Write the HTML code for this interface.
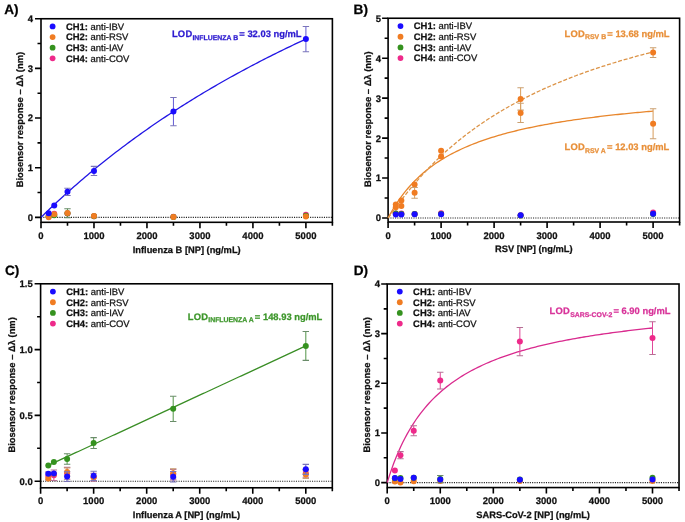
<!DOCTYPE html>
<html><head><meta charset="utf-8"><style>
html,body{margin:0;padding:0;background:#fff;width:685px;height:522px;overflow:hidden}
svg{display:block;will-change:transform}
text{font-family:"Liberation Sans", sans-serif;text-rendering:geometricPrecision;stroke-width:0.25px}
</style></head><body>
<svg width="685" height="522" viewBox="0 0 685 522" font-family='"Liberation Sans", sans-serif'>
<rect width="685" height="522" fill="#fff"/>
<line x1="41" y1="217.35" x2="332.39" y2="217.35" stroke="#222" stroke-width="1.1" stroke-dasharray="1.1 1.2"/>
<path d="M35 217.35H41M35 167.7H41M35 118.05H41M35 68.4H41M35 18.75H41M37.5 192.53H41M37.5 142.88H41M37.5 93.22H41M37.5 43.57H41M41 222.31V228.31M93.98 222.31V228.31M146.96 222.31V228.31M199.94 222.31V228.31M252.92 222.31V228.31M305.9 222.31V228.31M67.49 222.31V225.81M120.47 222.31V225.81M173.45 222.31V225.81M226.43 222.31V225.81M279.41 222.31V225.81M332.39 222.31V225.81" stroke="#000" stroke-width="1.6" fill="none"/>
<rect x="41" y="18.75" width="291.39" height="203.56" stroke="#000" stroke-width="1.6" fill="none"/>
<text x="33" y="220.75" font-size="9.5" font-weight="bold" fill="#111" stroke="#111" text-anchor="end">0</text>
<text x="33" y="171.1" font-size="9.5" font-weight="bold" fill="#111" stroke="#111" text-anchor="end">1</text>
<text x="33" y="121.45" font-size="9.5" font-weight="bold" fill="#111" stroke="#111" text-anchor="end">2</text>
<text x="33" y="71.8" font-size="9.5" font-weight="bold" fill="#111" stroke="#111" text-anchor="end">3</text>
<text x="33" y="22.15" font-size="9.5" font-weight="bold" fill="#111" stroke="#111" text-anchor="end">4</text>
<text x="41" y="239.01" font-size="9.5" font-weight="bold" fill="#111" stroke="#111" text-anchor="middle">0</text>
<text x="93.98" y="239.01" font-size="9.5" font-weight="bold" fill="#111" stroke="#111" text-anchor="middle">1000</text>
<text x="146.96" y="239.01" font-size="9.5" font-weight="bold" fill="#111" stroke="#111" text-anchor="middle">2000</text>
<text x="199.94" y="239.01" font-size="9.5" font-weight="bold" fill="#111" stroke="#111" text-anchor="middle">3000</text>
<text x="252.92" y="239.01" font-size="9.5" font-weight="bold" fill="#111" stroke="#111" text-anchor="middle">4000</text>
<text x="305.9" y="239.01" font-size="9.5" font-weight="bold" fill="#111" stroke="#111" text-anchor="middle">5000</text>
<text x="186.69" y="252.72" font-size="9.3" font-weight="bold" fill="#111" stroke="#111" text-anchor="middle">Influenza B [NP] (ng/mL)</text>
<text x="0" y="0" font-size="9.4" font-weight="bold" fill="#111" stroke="#111" text-anchor="middle" transform="translate(23.1 119.63) rotate(-90)">Biosensor response – Δλ (nm)</text>
<text x="4.3" y="13.8" font-size="13.6" font-weight="bold" fill="#000" stroke="#000" text-anchor="start">A)</text>
<circle cx="48.68" cy="215.86" r="3.0" fill="#ee2a8a"/>
<circle cx="54.24" cy="213.63" r="3.0" fill="#ee2a8a"/>
<circle cx="67.49" cy="213.38" r="3.0" fill="#ee2a8a"/>
<circle cx="93.98" cy="216.36" r="3.0" fill="#ee2a8a"/>
<circle cx="173.45" cy="216.85" r="3.0" fill="#ee2a8a"/>
<circle cx="305.9" cy="214.87" r="3.0" fill="#ee2a8a"/>
<path d="M67.49 208.66V217.6" stroke="#5a9a50" stroke-width="1.05" fill="none"/>
<path d="M64.29 208.66H70.69M64.29 217.6H70.69" stroke="#6a8c6a" stroke-width="1.05" fill="none"/>
<circle cx="48.68" cy="216.36" r="3.0" fill="#35921f"/>
<circle cx="54.24" cy="215.36" r="3.0" fill="#35921f"/>
<circle cx="67.49" cy="213.13" r="3.0" fill="#35921f"/>
<circle cx="93.98" cy="216.36" r="3.0" fill="#35921f"/>
<circle cx="173.45" cy="217.1" r="3.0" fill="#35921f"/>
<circle cx="305.9" cy="215.86" r="3.0" fill="#35921f"/>
<circle cx="48.68" cy="217.35" r="3.0" fill="#f07c22"/>
<circle cx="54.24" cy="214.37" r="3.0" fill="#f07c22"/>
<circle cx="67.49" cy="212.88" r="3.0" fill="#f07c22"/>
<circle cx="93.98" cy="216.11" r="3.0" fill="#f07c22"/>
<circle cx="173.45" cy="216.9" r="3.0" fill="#f07c22"/>
<circle cx="305.9" cy="216.51" r="3.0" fill="#f07c22"/>
<polyline points="41,217.35 43.21,215.19 45.41,213.04 47.62,210.92 49.83,208.8 52.04,206.71 54.24,204.63 56.45,202.56 58.66,200.51 60.87,198.48 63.08,196.46 65.28,194.46 67.49,192.47 69.7,190.49 71.91,188.53 74.11,186.58 76.32,184.65 78.53,182.73 80.73,180.83 82.94,178.94 85.15,177.06 87.36,175.19 89.56,173.34 91.77,171.5 93.98,169.68 96.19,167.87 98.39,166.07 100.6,164.28 102.81,162.5 105.02,160.74 107.22,158.99 109.43,157.25 111.64,155.52 113.85,153.81 116.06,152.1 118.26,150.41 120.47,148.73 122.68,147.06 124.88,145.4 127.09,143.76 129.3,142.12 131.51,140.5 133.72,138.88 135.92,137.28 138.13,135.68 140.34,134.1 142.55,132.53 144.75,130.96 146.96,129.41 149.17,127.87 151.38,126.34 153.58,124.81 155.79,123.3 158,121.8 160.2,120.3 162.41,118.82 164.62,117.35 166.83,115.88 169.03,114.42 171.24,112.98 173.45,111.54 175.66,110.11 177.87,108.69 180.07,107.28 182.28,105.87 184.49,104.48 186.69,103.09 188.9,101.72 191.11,100.35 193.32,98.99 195.52,97.63 197.73,96.29 199.94,94.95 202.15,93.62 204.36,92.3 206.56,90.99 208.77,89.69 210.98,88.39 213.19,87.1 215.39,85.82 217.6,84.54 219.81,83.28 222.01,82.02 224.22,80.76 226.43,79.52 228.64,78.28 230.84,77.05 233.05,75.83 235.26,74.61 237.47,73.4 239.68,72.2 241.88,71 244.09,69.81 246.3,68.63 248.5,67.46 250.71,66.29 252.92,65.13 255.13,63.97 257.34,62.82 259.54,61.68 261.75,60.54 263.96,59.41 266.16,58.28 268.37,57.17 270.58,56.05 272.79,54.95 275,53.85 277.2,52.75 279.41,51.67 281.62,50.58 283.82,49.51 286.03,48.44 288.24,47.37 290.45,46.31 292.65,45.26 294.86,44.21 297.07,43.17 299.28,42.13 301.49,41.1 303.69,40.08 305.9,39.06" stroke="#2216e4" stroke-width="1.3" fill="none"/>
<path d="M67.49 188.16V195.4" stroke="#6a62d6" stroke-width="1.05" fill="none"/>
<path d="M64.29 188.16H70.69M64.29 195.4H70.69" stroke="#7a74b8" stroke-width="1.05" fill="none"/>
<path d="M93.98 166.36V175.5" stroke="#6a62d6" stroke-width="1.05" fill="none"/>
<path d="M90.78 166.36H97.18M90.78 175.5H97.18" stroke="#7a74b8" stroke-width="1.05" fill="none"/>
<path d="M173.45 97.4V125.8" stroke="#6a62d6" stroke-width="1.05" fill="none"/>
<path d="M170.25 97.4H176.65M170.25 125.8H176.65" stroke="#7a74b8" stroke-width="1.05" fill="none"/>
<path d="M305.9 26.55V51.67" stroke="#6a62d6" stroke-width="1.05" fill="none"/>
<path d="M302.7 26.55H309.1M302.7 51.67H309.1" stroke="#7a74b8" stroke-width="1.05" fill="none"/>
<circle cx="48.68" cy="213.23" r="3.0" fill="#1a0cff"/>
<circle cx="54.24" cy="205.43" r="3.0" fill="#1a0cff"/>
<circle cx="67.49" cy="191.78" r="3.0" fill="#1a0cff"/>
<circle cx="93.98" cy="170.93" r="3.0" fill="#1a0cff"/>
<circle cx="173.45" cy="111.6" r="3.0" fill="#1a0cff"/>
<circle cx="305.9" cy="39.11" r="3.0" fill="#1a0cff"/>
<circle cx="52.6" cy="26.4" r="2.9" fill="#1a0cff"/>
<text x="65.9" y="29.7" font-size="9.45" fill="#111" stroke="#111"><tspan font-weight="bold">CH1:</tspan><tspan> anti-IBV</tspan></text>
<circle cx="52.6" cy="37.05" r="2.9" fill="#f07c22"/>
<text x="65.9" y="40.35" font-size="9.45" fill="#111" stroke="#111"><tspan font-weight="bold">CH2:</tspan><tspan> anti-RSV</tspan></text>
<circle cx="52.6" cy="47.7" r="2.9" fill="#35921f"/>
<text x="65.9" y="51" font-size="9.45" fill="#111" stroke="#111"><tspan font-weight="bold">CH3:</tspan><tspan> anti-IAV</tspan></text>
<circle cx="52.6" cy="58.35" r="2.9" fill="#ee2a8a"/>
<text x="65.9" y="61.65" font-size="9.45" fill="#111" stroke="#111"><tspan font-weight="bold">CH4:</tspan><tspan> anti-COV</tspan></text>
<text x="171.9" y="36.9" font-size="9.4" font-weight="bold" fill="#2c1ad0" stroke="#2c1ad0"><tspan letter-spacing="0.25">LOD</tspan><tspan font-size="6.9" dy="2.6">INFLUENZA B</tspan><tspan dy="-2.6" dx="1.2">= 32.03 ng/mL</tspan></text>
<line x1="388.1" y1="218" x2="679.6" y2="218" stroke="#222" stroke-width="1.1" stroke-dasharray="1.1 1.2"/>
<path d="M382.1 218H388.1M382.1 178.05H388.1M382.1 138.1H388.1M382.1 98.15H388.1M382.1 58.2H388.1M382.1 18.25H388.1M384.6 198.03H388.1M384.6 158.07H388.1M384.6 118.12H388.1M384.6 78.17H388.1M384.6 38.22H388.1M388.1 222V228M441.1 222V228M494.1 222V228M547.1 222V228M600.1 222V228M653.1 222V228M414.6 222V225.5M467.6 222V225.5M520.6 222V225.5M573.6 222V225.5M626.6 222V225.5M679.6 222V225.5" stroke="#000" stroke-width="1.6" fill="none"/>
<rect x="388.1" y="18.25" width="291.5" height="203.75" stroke="#000" stroke-width="1.6" fill="none"/>
<text x="381" y="221.4" font-size="9.5" font-weight="bold" fill="#111" stroke="#111" text-anchor="end">0</text>
<text x="381" y="181.45" font-size="9.5" font-weight="bold" fill="#111" stroke="#111" text-anchor="end">1</text>
<text x="381" y="141.5" font-size="9.5" font-weight="bold" fill="#111" stroke="#111" text-anchor="end">2</text>
<text x="381" y="101.55" font-size="9.5" font-weight="bold" fill="#111" stroke="#111" text-anchor="end">3</text>
<text x="381" y="61.6" font-size="9.5" font-weight="bold" fill="#111" stroke="#111" text-anchor="end">4</text>
<text x="381" y="21.65" font-size="9.5" font-weight="bold" fill="#111" stroke="#111" text-anchor="end">5</text>
<text x="388.1" y="238.69" font-size="9.5" font-weight="bold" fill="#111" stroke="#111" text-anchor="middle">0</text>
<text x="441.1" y="238.69" font-size="9.5" font-weight="bold" fill="#111" stroke="#111" text-anchor="middle">1000</text>
<text x="494.1" y="238.69" font-size="9.5" font-weight="bold" fill="#111" stroke="#111" text-anchor="middle">2000</text>
<text x="547.1" y="238.69" font-size="9.5" font-weight="bold" fill="#111" stroke="#111" text-anchor="middle">3000</text>
<text x="600.1" y="238.69" font-size="9.5" font-weight="bold" fill="#111" stroke="#111" text-anchor="middle">4000</text>
<text x="653.1" y="238.69" font-size="9.5" font-weight="bold" fill="#111" stroke="#111" text-anchor="middle">5000</text>
<text x="533.85" y="252.4" font-size="9.3" font-weight="bold" fill="#111" stroke="#111" text-anchor="middle">RSV [NP] (ng/mL)</text>
<text x="0" y="0" font-size="9.4" font-weight="bold" fill="#111" stroke="#111" text-anchor="middle" transform="translate(370.9 119.22) rotate(-90)">Biosensor response – Δλ (nm)</text>
<text x="353.6" y="13.8" font-size="13.6" font-weight="bold" fill="#000" stroke="#000" text-anchor="start">B)</text>
<circle cx="395.79" cy="213.61" r="3.0" fill="#ee2a8a"/>
<circle cx="401.35" cy="213.61" r="3.0" fill="#ee2a8a"/>
<circle cx="414.6" cy="214" r="3.0" fill="#ee2a8a"/>
<circle cx="441.1" cy="213.21" r="3.0" fill="#ee2a8a"/>
<circle cx="520.6" cy="215.2" r="3.0" fill="#ee2a8a"/>
<circle cx="653.1" cy="212.41" r="3.0" fill="#ee2a8a"/>
<circle cx="395.79" cy="213.61" r="3.0" fill="#35921f"/>
<circle cx="401.35" cy="214" r="3.0" fill="#35921f"/>
<circle cx="414.6" cy="214" r="3.0" fill="#35921f"/>
<circle cx="441.1" cy="214" r="3.0" fill="#35921f"/>
<circle cx="520.6" cy="215.6" r="3.0" fill="#35921f"/>
<circle cx="653.1" cy="214" r="3.0" fill="#35921f"/>
<polyline points="388.1,218 390.31,213.89 392.52,210.03 394.73,206.38 396.93,202.94 399.14,199.69 401.35,196.6 403.56,193.68 405.77,190.9 407.98,188.26 410.18,185.74 412.39,183.34 414.6,181.05 416.81,178.86 419.02,176.77 421.23,174.76 423.43,172.84 425.64,171 427.85,169.23 430.06,167.53 432.27,165.9 434.48,164.33 436.68,162.82 438.89,161.36 441.1,159.95 443.31,158.59 445.52,157.28 447.73,156.02 449.93,154.8 452.14,153.61 454.35,152.47 456.56,151.36 458.77,150.29 460.98,149.24 463.18,148.24 465.39,147.26 467.6,146.31 469.81,145.38 472.02,144.49 474.23,143.62 476.43,142.77 478.64,141.95 480.85,141.14 483.06,140.36 485.27,139.6 487.48,138.86 489.68,138.14 491.89,137.44 494.1,136.76 496.31,136.09 498.52,135.44 500.73,134.8 502.93,134.18 505.14,133.57 507.35,132.98 509.56,132.4 511.77,131.84 513.98,131.29 516.18,130.75 518.39,130.22 520.6,129.7 522.81,129.19 525.02,128.7 527.23,128.21 529.43,127.74 531.64,127.28 533.85,126.82 536.06,126.37 538.27,125.94 540.48,125.51 542.68,125.09 544.89,124.68 547.1,124.27 549.31,123.88 551.52,123.49 553.73,123.11 555.93,122.73 558.14,122.36 560.35,122 562.56,121.65 564.77,121.3 566.98,120.96 569.18,120.62 571.39,120.29 573.6,119.97 575.81,119.65 578.02,119.34 580.23,119.03 582.43,118.73 584.64,118.43 586.85,118.13 589.06,117.85 591.27,117.56 593.48,117.28 595.68,117.01 597.89,116.74 600.1,116.47 602.31,116.21 604.52,115.95 606.73,115.7 608.93,115.45 611.14,115.2 613.35,114.96 615.56,114.72 617.77,114.48 619.98,114.25 622.18,114.02 624.39,113.8 626.6,113.58 628.81,113.36 631.02,113.14 633.23,112.93 635.43,112.72 637.64,112.51 639.85,112.31 642.06,112.1 644.27,111.91 646.48,111.71 648.68,111.52 650.89,111.32 653.1,111.14" stroke="#e8862c" stroke-width="1.3" fill="none"/>
<polyline points="388.1,218 390.31,215.01 392.52,211.95 394.73,208.91 396.93,205.91 399.14,202.95 401.35,200.04 403.56,197.18 405.77,194.37 407.98,191.61 410.18,188.9 412.39,186.25 414.6,183.64 416.81,181.08 419.02,178.57 421.23,176.1 423.43,173.68 425.64,171.31 427.85,168.98 430.06,166.7 432.27,164.45 434.48,162.25 436.68,160.09 438.89,157.97 441.1,155.89 443.31,153.84 445.52,151.83 447.73,149.86 449.93,147.92 452.14,146.02 454.35,144.14 456.56,142.31 458.77,140.5 460.98,138.72 463.18,136.98 465.39,135.26 467.6,133.57 469.81,131.91 472.02,130.28 474.23,128.68 476.43,127.1 478.64,125.55 480.85,124.02 483.06,122.51 485.27,121.03 487.48,119.58 489.68,118.14 491.89,116.73 494.1,115.34 496.31,113.97 498.52,112.63 500.73,111.3 502.93,109.99 505.14,108.71 507.35,107.44 509.56,106.19 511.77,104.96 513.98,103.74 516.18,102.55 518.39,101.37 520.6,100.21 522.81,99.06 525.02,97.93 527.23,96.82 529.43,95.72 531.64,94.64 533.85,93.57 536.06,92.52 538.27,91.48 540.48,90.45 542.68,89.44 544.89,88.45 547.1,87.46 549.31,86.49 551.52,85.53 553.73,84.58 555.93,83.65 558.14,82.73 560.35,81.82 562.56,80.92 564.77,80.03 566.98,79.15 569.18,78.29 571.39,77.43 573.6,76.59 575.81,75.76 578.02,74.93 580.23,74.12 582.43,73.31 584.64,72.52 586.85,71.73 589.06,70.96 591.27,70.19 593.48,69.43 595.68,68.69 597.89,67.95 600.1,67.21 602.31,66.49 604.52,65.78 606.73,65.07 608.93,64.37 611.14,63.68 613.35,63 615.56,62.32 617.77,61.65 619.98,60.99 622.18,60.34 624.39,59.69 626.6,59.05 628.81,58.42 631.02,57.79 633.23,57.17 635.43,56.56 637.64,55.95 639.85,55.35 642.06,54.76 644.27,54.17 646.48,53.59 648.68,53.02 650.89,52.45 653.1,51.88" stroke="#dc9448" stroke-width="1.3" fill="none" stroke-dasharray="4 1.8"/>
<path d="M520.6 87.76V110.13" stroke="#d9a062" stroke-width="1.05" fill="none"/>
<path d="M517.4 87.76H523.8M517.4 110.13H523.8" stroke="#caa072" stroke-width="1.05" fill="none"/>
<path d="M653.1 47.81V57.4" stroke="#d9a062" stroke-width="1.05" fill="none"/>
<path d="M649.9 47.81H656.3M649.9 57.4H656.3" stroke="#caa072" stroke-width="1.05" fill="none"/>
<circle cx="395.79" cy="204.42" r="3.0" fill="#f07c22"/>
<circle cx="401.35" cy="200.42" r="3.0" fill="#f07c22"/>
<circle cx="414.6" cy="184.44" r="3.0" fill="#f07c22"/>
<circle cx="441.1" cy="150.68" r="3.0" fill="#f07c22"/>
<circle cx="520.6" cy="98.95" r="3.0" fill="#f07c22"/>
<circle cx="653.1" cy="52.61" r="3.0" fill="#f07c22"/>
<path d="M414.6 187.44V198.22" stroke="#d9a062" stroke-width="1.05" fill="none"/>
<path d="M411.4 187.44H417.8M411.4 198.22H417.8" stroke="#caa072" stroke-width="1.05" fill="none"/>
<path d="M520.6 103.34V122.52" stroke="#d9a062" stroke-width="1.05" fill="none"/>
<path d="M517.4 103.34H523.8M517.4 122.52H523.8" stroke="#caa072" stroke-width="1.05" fill="none"/>
<path d="M653.1 108.74V138.7" stroke="#d9a062" stroke-width="1.05" fill="none"/>
<path d="M649.9 108.74H656.3M649.9 138.7H656.3" stroke="#caa072" stroke-width="1.05" fill="none"/>
<circle cx="395.79" cy="207.21" r="3.0" fill="#f07c22"/>
<circle cx="401.35" cy="206.01" r="3.0" fill="#f07c22"/>
<circle cx="414.6" cy="192.83" r="3.0" fill="#f07c22"/>
<circle cx="441.1" cy="156.48" r="3.0" fill="#f07c22"/>
<circle cx="520.6" cy="112.93" r="3.0" fill="#f07c22"/>
<circle cx="653.1" cy="123.72" r="3.0" fill="#f07c22"/>
<circle cx="395.79" cy="214.6" r="3.0" fill="#1a0cff"/>
<circle cx="401.35" cy="214.6" r="3.0" fill="#1a0cff"/>
<circle cx="414.6" cy="214.2" r="3.0" fill="#1a0cff"/>
<circle cx="441.1" cy="214.2" r="3.0" fill="#1a0cff"/>
<circle cx="520.6" cy="215.28" r="3.0" fill="#1a0cff"/>
<circle cx="653.1" cy="213.73" r="3.0" fill="#1a0cff"/>
<circle cx="400.5" cy="26.1" r="2.9" fill="#1a0cff"/>
<text x="413.8" y="29.4" font-size="9.45" fill="#111" stroke="#111"><tspan font-weight="bold">CH1:</tspan><tspan> anti-IBV</tspan></text>
<circle cx="400.5" cy="36.75" r="2.9" fill="#f07c22"/>
<text x="413.8" y="40.05" font-size="9.45" fill="#111" stroke="#111"><tspan font-weight="bold">CH2:</tspan><tspan> anti-RSV</tspan></text>
<circle cx="400.5" cy="47.4" r="2.9" fill="#35921f"/>
<text x="413.8" y="50.7" font-size="9.45" fill="#111" stroke="#111"><tspan font-weight="bold">CH3:</tspan><tspan> anti-IAV</tspan></text>
<circle cx="400.5" cy="58.05" r="2.9" fill="#ee2a8a"/>
<text x="413.8" y="61.35" font-size="9.45" fill="#111" stroke="#111"><tspan font-weight="bold">CH4:</tspan><tspan> anti-COV</tspan></text>
<text x="564.5" y="36.6" font-size="9.4" font-weight="bold" fill="#e8903a" stroke="#e8903a"><tspan letter-spacing="0.25">LOD</tspan><tspan font-size="6.9" dy="2.6">RSV B</tspan><tspan dy="-2.6" dx="1.2">= 13.68 ng/mL</tspan></text>
<text x="564.5" y="150.4" font-size="9.4" font-weight="bold" fill="#e8903a" stroke="#e8903a"><tspan letter-spacing="0.25">LOD</tspan><tspan font-size="6.9" dy="2.6">RSV A</tspan><tspan dy="-2.6" dx="1.2">= 12.03 ng/mL</tspan></text>
<line x1="40.6" y1="481.2" x2="332.32" y2="481.2" stroke="#222" stroke-width="1.1" stroke-dasharray="1.1 1.2"/>
<path d="M34.6 481.2H40.6M34.6 415.4H40.6M34.6 349.6H40.6M34.6 283.8H40.6M37.1 448.3H40.6M37.1 382.5H40.6M37.1 316.7H40.6M40.6 487.78V493.78M93.64 487.78V493.78M146.68 487.78V493.78M199.72 487.78V493.78M252.76 487.78V493.78M305.8 487.78V493.78M67.12 487.78V491.28M120.16 487.78V491.28M173.2 487.78V491.28M226.24 487.78V491.28M279.28 487.78V491.28M332.32 487.78V491.28" stroke="#000" stroke-width="1.6" fill="none"/>
<rect x="40.6" y="283.8" width="291.72" height="203.98" stroke="#000" stroke-width="1.6" fill="none"/>
<text x="32.8" y="484.6" font-size="9.5" font-weight="bold" fill="#111" stroke="#111" text-anchor="end">0.0</text>
<text x="32.8" y="418.8" font-size="9.5" font-weight="bold" fill="#111" stroke="#111" text-anchor="end">0.5</text>
<text x="32.8" y="353" font-size="9.5" font-weight="bold" fill="#111" stroke="#111" text-anchor="end">1.0</text>
<text x="32.8" y="287.2" font-size="9.5" font-weight="bold" fill="#111" stroke="#111" text-anchor="end">1.5</text>
<text x="40.6" y="504.48" font-size="9.5" font-weight="bold" fill="#111" stroke="#111" text-anchor="middle">0</text>
<text x="93.64" y="504.48" font-size="9.5" font-weight="bold" fill="#111" stroke="#111" text-anchor="middle">1000</text>
<text x="146.68" y="504.48" font-size="9.5" font-weight="bold" fill="#111" stroke="#111" text-anchor="middle">2000</text>
<text x="199.72" y="504.48" font-size="9.5" font-weight="bold" fill="#111" stroke="#111" text-anchor="middle">3000</text>
<text x="252.76" y="504.48" font-size="9.5" font-weight="bold" fill="#111" stroke="#111" text-anchor="middle">4000</text>
<text x="305.8" y="504.48" font-size="9.5" font-weight="bold" fill="#111" stroke="#111" text-anchor="middle">5000</text>
<text x="186.46" y="518.18" font-size="9.3" font-weight="bold" fill="#111" stroke="#111" text-anchor="middle">Influenza A [NP] (ng/mL)</text>
<text x="0" y="0" font-size="9.4" font-weight="bold" fill="#111" stroke="#111" text-anchor="middle" transform="translate(14.9 384.89) rotate(-90)">Biosensor response – Δλ (nm)</text>
<text x="4.9" y="274.7" font-size="13.6" font-weight="bold" fill="#000" stroke="#000" text-anchor="start">C)</text>
<path d="M48.29 471.99V479.88" stroke="#e04a9a" stroke-width="1.05" fill="none"/>
<path d="M45.09 471.99H51.49M45.09 479.88H51.49" stroke="#b47094" stroke-width="1.05" fill="none"/>
<path d="M53.86 470.01V480.54" stroke="#e04a9a" stroke-width="1.05" fill="none"/>
<path d="M50.66 470.01H57.06M50.66 480.54H57.06" stroke="#b47094" stroke-width="1.05" fill="none"/>
<path d="M67.12 467.38V479.23" stroke="#e04a9a" stroke-width="1.05" fill="none"/>
<path d="M63.92 467.38H70.32M63.92 479.23H70.32" stroke="#b47094" stroke-width="1.05" fill="none"/>
<path d="M93.64 473.3V481.2" stroke="#e04a9a" stroke-width="1.05" fill="none"/>
<path d="M90.44 473.3H96.84M90.44 481.2H96.84" stroke="#b47094" stroke-width="1.05" fill="none"/>
<path d="M173.2 469.36V479.88" stroke="#e04a9a" stroke-width="1.05" fill="none"/>
<path d="M170 469.36H176.4M170 479.88H176.4" stroke="#b47094" stroke-width="1.05" fill="none"/>
<path d="M305.8 469.36V477.25" stroke="#e04a9a" stroke-width="1.05" fill="none"/>
<path d="M302.6 469.36H309M302.6 477.25H309" stroke="#b47094" stroke-width="1.05" fill="none"/>
<circle cx="48.29" cy="475.94" r="3.0" fill="#ee2a8a"/>
<circle cx="53.86" cy="475.28" r="3.0" fill="#ee2a8a"/>
<circle cx="67.12" cy="473.3" r="3.0" fill="#ee2a8a"/>
<circle cx="93.64" cy="477.25" r="3.0" fill="#ee2a8a"/>
<circle cx="173.2" cy="474.62" r="3.0" fill="#ee2a8a"/>
<circle cx="305.8" cy="473.3" r="3.0" fill="#ee2a8a"/>
<path d="M67.12 468.04V475.94" stroke="#d9a062" stroke-width="1.05" fill="none"/>
<path d="M63.92 468.04H70.32M63.92 475.94H70.32" stroke="#caa072" stroke-width="1.05" fill="none"/>
<path d="M173.2 468.7V477.91" stroke="#d9a062" stroke-width="1.05" fill="none"/>
<path d="M170 468.7H176.4M170 477.91H176.4" stroke="#caa072" stroke-width="1.05" fill="none"/>
<path d="M305.8 470.67V478.57" stroke="#d9a062" stroke-width="1.05" fill="none"/>
<path d="M302.6 470.67H309M302.6 478.57H309" stroke="#caa072" stroke-width="1.05" fill="none"/>
<circle cx="48.29" cy="478.57" r="3.0" fill="#f07c22"/>
<circle cx="53.86" cy="473.96" r="3.0" fill="#f07c22"/>
<circle cx="67.12" cy="471.99" r="3.0" fill="#f07c22"/>
<circle cx="93.64" cy="477.25" r="3.0" fill="#f07c22"/>
<circle cx="173.2" cy="473.3" r="3.0" fill="#f07c22"/>
<circle cx="305.8" cy="474.62" r="3.0" fill="#f07c22"/>
<polyline points="48.29,465.41 50.44,464.41 52.58,463.42 54.73,462.42 56.87,461.42 59.02,460.43 61.17,459.43 63.31,458.44 65.46,457.44 67.6,456.45 69.75,455.45 71.9,454.45 74.04,453.46 76.19,452.46 78.33,451.47 80.48,450.47 82.63,449.48 84.77,448.48 86.92,447.48 89.06,446.49 91.21,445.49 93.35,444.5 95.5,443.5 97.65,442.51 99.79,441.51 101.94,440.51 104.08,439.52 106.23,438.52 108.38,437.53 110.52,436.53 112.67,435.53 114.81,434.54 116.96,433.54 119.11,432.55 121.25,431.55 123.4,430.56 125.54,429.56 127.69,428.56 129.84,427.57 131.98,426.57 134.13,425.58 136.27,424.58 138.42,423.59 140.56,422.59 142.71,421.59 144.86,420.6 147,419.6 149.15,418.61 151.29,417.61 153.44,416.62 155.59,415.62 157.73,414.62 159.88,413.63 162.02,412.63 164.17,411.64 166.32,410.64 168.46,409.64 170.61,408.65 172.75,407.65 174.9,406.66 177.05,405.66 179.19,404.67 181.34,403.67 183.48,402.67 185.63,401.68 187.77,400.68 189.92,399.69 192.07,398.69 194.21,397.7 196.36,396.7 198.5,395.7 200.65,394.71 202.8,393.71 204.94,392.72 207.09,391.72 209.23,390.73 211.38,389.73 213.53,388.73 215.67,387.74 217.82,386.74 219.96,385.75 222.11,384.75 224.26,383.75 226.4,382.76 228.55,381.76 230.69,380.77 232.84,379.77 234.98,378.78 237.13,377.78 239.28,376.78 241.42,375.79 243.57,374.79 245.71,373.8 247.86,372.8 250.01,371.81 252.15,370.81 254.3,369.81 256.44,368.82 258.59,367.82 260.74,366.83 262.88,365.83 265.03,364.83 267.17,363.84 269.32,362.84 271.47,361.85 273.61,360.85 275.76,359.86 277.9,358.86 280.05,357.86 282.19,356.87 284.34,355.87 286.49,354.88 288.63,353.88 290.78,352.89 292.92,351.89 295.07,350.89 297.22,349.9 299.36,348.9 301.51,347.91 303.65,346.91 305.8,345.92" stroke="#3a8e26" stroke-width="1.3" fill="none"/>
<path d="M67.12 453.7V464.22" stroke="#5a9a50" stroke-width="1.05" fill="none"/>
<path d="M63.92 453.7H70.32M63.92 464.22H70.32" stroke="#6a8c6a" stroke-width="1.05" fill="none"/>
<path d="M93.64 437.64V448.43" stroke="#5a9a50" stroke-width="1.05" fill="none"/>
<path d="M90.44 437.64H96.84M90.44 448.43H96.84" stroke="#6a8c6a" stroke-width="1.05" fill="none"/>
<path d="M173.2 396.19V421.45" stroke="#5a9a50" stroke-width="1.05" fill="none"/>
<path d="M170 396.19H176.4M170 421.45H176.4" stroke="#6a8c6a" stroke-width="1.05" fill="none"/>
<path d="M305.8 331.44V360.39" stroke="#5a9a50" stroke-width="1.05" fill="none"/>
<path d="M302.6 331.44H309M302.6 360.39H309" stroke="#6a8c6a" stroke-width="1.05" fill="none"/>
<circle cx="48.29" cy="465.54" r="3.0" fill="#35921f"/>
<circle cx="53.86" cy="461.99" r="3.0" fill="#35921f"/>
<circle cx="67.12" cy="458.96" r="3.0" fill="#35921f"/>
<circle cx="93.64" cy="443.04" r="3.0" fill="#35921f"/>
<circle cx="173.2" cy="408.82" r="3.0" fill="#35921f"/>
<circle cx="305.8" cy="345.92" r="3.0" fill="#35921f"/>
<path d="M67.12 471.72V481.46" stroke="#6a62d6" stroke-width="1.05" fill="none"/>
<path d="M63.92 471.72H70.32M63.92 481.46H70.32" stroke="#7a74b8" stroke-width="1.05" fill="none"/>
<path d="M93.64 471.2V480.41" stroke="#6a62d6" stroke-width="1.05" fill="none"/>
<path d="M90.44 471.2H96.84M90.44 480.41H96.84" stroke="#7a74b8" stroke-width="1.05" fill="none"/>
<path d="M173.2 471.46V481.99" stroke="#6a62d6" stroke-width="1.05" fill="none"/>
<path d="M170 471.46H176.4M170 481.99H176.4" stroke="#7a74b8" stroke-width="1.05" fill="none"/>
<path d="M305.8 464.36V474.36" stroke="#6a62d6" stroke-width="1.05" fill="none"/>
<path d="M302.6 464.36H309M302.6 474.36H309" stroke="#7a74b8" stroke-width="1.05" fill="none"/>
<circle cx="48.29" cy="473.83" r="3.0" fill="#1a0cff"/>
<circle cx="53.86" cy="473.44" r="3.0" fill="#1a0cff"/>
<circle cx="67.12" cy="476.59" r="3.0" fill="#1a0cff"/>
<circle cx="93.64" cy="475.8" r="3.0" fill="#1a0cff"/>
<circle cx="173.2" cy="476.73" r="3.0" fill="#1a0cff"/>
<circle cx="305.8" cy="469.36" r="3.0" fill="#1a0cff"/>
<circle cx="52.9" cy="291.6" r="2.9" fill="#1a0cff"/>
<text x="66.2" y="294.9" font-size="9.45" fill="#111" stroke="#111"><tspan font-weight="bold">CH1:</tspan><tspan> anti-IBV</tspan></text>
<circle cx="52.9" cy="302.25" r="2.9" fill="#f07c22"/>
<text x="66.2" y="305.55" font-size="9.45" fill="#111" stroke="#111"><tspan font-weight="bold">CH2:</tspan><tspan> anti-RSV</tspan></text>
<circle cx="52.9" cy="312.9" r="2.9" fill="#35921f"/>
<text x="66.2" y="316.2" font-size="9.45" fill="#111" stroke="#111"><tspan font-weight="bold">CH3:</tspan><tspan> anti-IAV</tspan></text>
<circle cx="52.9" cy="323.55" r="2.9" fill="#ee2a8a"/>
<text x="66.2" y="326.85" font-size="9.45" fill="#111" stroke="#111"><tspan font-weight="bold">CH4:</tspan><tspan> anti-COV</tspan></text>
<text x="187.7" y="319.6" font-size="9.4" font-weight="bold" fill="#3c962a" stroke="#3c962a"><tspan letter-spacing="0.25">LOD</tspan><tspan font-size="6.9" dy="2.6">INFLUENZA A</tspan><tspan dy="-2.6" dx="1.2">= 148.93 ng/mL</tspan></text>
<line x1="387.2" y1="482.6" x2="679.03" y2="482.6" stroke="#222" stroke-width="1.1" stroke-dasharray="1.1 1.2"/>
<path d="M381.2 482.6H387.2M381.2 432.95H387.2M381.2 383.3H387.2M381.2 333.65H387.2M381.2 284H387.2M383.7 457.78H387.2M383.7 408.12H387.2M383.7 358.48H387.2M383.7 308.83H387.2M387.2 487.56V493.56M440.26 487.56V493.56M493.32 487.56V493.56M546.38 487.56V493.56M599.44 487.56V493.56M652.5 487.56V493.56M413.73 487.56V491.06M466.79 487.56V491.06M519.85 487.56V491.06M572.91 487.56V491.06M625.97 487.56V491.06M679.03 487.56V491.06" stroke="#000" stroke-width="1.6" fill="none"/>
<rect x="387.2" y="284" width="291.83" height="203.56" stroke="#000" stroke-width="1.6" fill="none"/>
<text x="380.1" y="486" font-size="9.5" font-weight="bold" fill="#111" stroke="#111" text-anchor="end">0</text>
<text x="380.1" y="436.35" font-size="9.5" font-weight="bold" fill="#111" stroke="#111" text-anchor="end">1</text>
<text x="380.1" y="386.7" font-size="9.5" font-weight="bold" fill="#111" stroke="#111" text-anchor="end">2</text>
<text x="380.1" y="337.05" font-size="9.5" font-weight="bold" fill="#111" stroke="#111" text-anchor="end">3</text>
<text x="380.1" y="287.4" font-size="9.5" font-weight="bold" fill="#111" stroke="#111" text-anchor="end">4</text>
<text x="387.2" y="504.26" font-size="9.5" font-weight="bold" fill="#111" stroke="#111" text-anchor="middle">0</text>
<text x="440.26" y="504.26" font-size="9.5" font-weight="bold" fill="#111" stroke="#111" text-anchor="middle">1000</text>
<text x="493.32" y="504.26" font-size="9.5" font-weight="bold" fill="#111" stroke="#111" text-anchor="middle">2000</text>
<text x="546.38" y="504.26" font-size="9.5" font-weight="bold" fill="#111" stroke="#111" text-anchor="middle">3000</text>
<text x="599.44" y="504.26" font-size="9.5" font-weight="bold" fill="#111" stroke="#111" text-anchor="middle">4000</text>
<text x="652.5" y="504.26" font-size="9.5" font-weight="bold" fill="#111" stroke="#111" text-anchor="middle">5000</text>
<text x="533.12" y="517.97" font-size="9.3" font-weight="bold" fill="#111" stroke="#111" text-anchor="middle">SARS-CoV-2 [NP] (ng/mL)</text>
<text x="0" y="0" font-size="9.4" font-weight="bold" fill="#111" stroke="#111" text-anchor="middle" transform="translate(370 384.88) rotate(-90)">Biosensor response – Δλ (nm)</text>
<text x="353.8" y="274.8" font-size="13.6" font-weight="bold" fill="#000" stroke="#000" text-anchor="start">D)</text>
<circle cx="394.89" cy="481.61" r="3.0" fill="#f07c22"/>
<circle cx="400.46" cy="482.6" r="3.0" fill="#f07c22"/>
<circle cx="413.73" cy="481.36" r="3.0" fill="#f07c22"/>
<circle cx="440.26" cy="481.11" r="3.0" fill="#f07c22"/>
<circle cx="519.85" cy="481.11" r="3.0" fill="#f07c22"/>
<circle cx="652.5" cy="481.11" r="3.0" fill="#f07c22"/>
<path d="M440.26 475.55V482.7" stroke="#5a9a50" stroke-width="1.05" fill="none"/>
<path d="M437.06 475.55H443.46M437.06 482.7H443.46" stroke="#6a8c6a" stroke-width="1.05" fill="none"/>
<circle cx="394.89" cy="478.13" r="3.0" fill="#35921f"/>
<circle cx="400.46" cy="477.88" r="3.0" fill="#35921f"/>
<circle cx="413.73" cy="477.64" r="3.0" fill="#35921f"/>
<circle cx="440.26" cy="479.12" r="3.0" fill="#35921f"/>
<circle cx="519.85" cy="479.62" r="3.0" fill="#35921f"/>
<circle cx="652.5" cy="477.64" r="3.0" fill="#35921f"/>
<polyline points="387.2,482.6 389.41,475.61 391.62,469.12 393.83,463.07 396.04,457.44 398.25,452.16 400.46,447.22 402.68,442.58 404.89,438.22 407.1,434.1 409.31,430.21 411.52,426.54 413.73,423.05 415.94,419.75 418.15,416.62 420.36,413.63 422.57,410.79 424.78,408.08 427,405.5 429.21,403.03 431.42,400.67 433.63,398.4 435.84,396.24 438.05,394.16 440.26,392.16 442.47,390.25 444.68,388.41 446.89,386.63 449.1,384.93 451.31,383.28 453.52,381.7 455.74,380.17 457.95,378.69 460.16,377.26 462.37,375.88 464.58,374.55 466.79,373.26 469,372.01 471.21,370.8 473.42,369.62 475.63,368.48 477.84,367.38 480.06,366.31 482.27,365.27 484.48,364.26 486.69,363.28 488.9,362.32 491.11,361.39 493.32,360.49 495.53,359.61 497.74,358.76 499.95,357.92 502.16,357.11 504.37,356.32 506.58,355.55 508.8,354.79 511.01,354.06 513.22,353.34 515.43,352.64 517.64,351.96 519.85,351.29 522.06,350.64 524.27,350.01 526.48,349.38 528.69,348.77 530.9,348.18 533.12,347.6 535.33,347.03 537.54,346.47 539.75,345.92 541.96,345.39 544.17,344.86 546.38,344.35 548.59,343.85 550.8,343.36 553.01,342.87 555.22,342.4 557.43,341.94 559.64,341.48 561.86,341.04 564.07,340.6 566.28,340.17 568.49,339.75 570.7,339.33 572.91,338.93 575.12,338.53 577.33,338.14 579.54,337.75 581.75,337.37 583.96,337 586.17,336.63 588.39,336.28 590.6,335.92 592.81,335.58 595.02,335.23 597.23,334.9 599.44,334.57 601.65,334.24 603.86,333.92 606.07,333.61 608.28,333.3 610.49,333 612.71,332.7 614.92,332.4 617.13,332.11 619.34,331.83 621.55,331.54 623.76,331.27 625.97,330.99 628.18,330.72 630.39,330.46 632.6,330.2 634.81,329.94 637.02,329.69 639.24,329.44 641.45,329.19 643.66,328.95 645.87,328.71 648.08,328.47 650.29,328.24 652.5,328.01" stroke="#d92a8e" stroke-width="1.3" fill="none"/>
<path d="M400.46 451.62V458.77" stroke="#e04a9a" stroke-width="1.05" fill="none"/>
<path d="M397.26 451.62H403.66M397.26 458.77H403.66" stroke="#b47094" stroke-width="1.05" fill="none"/>
<path d="M413.73 425.75V435.68" stroke="#e04a9a" stroke-width="1.05" fill="none"/>
<path d="M410.53 425.75H416.93M410.53 435.68H416.93" stroke="#b47094" stroke-width="1.05" fill="none"/>
<path d="M440.26 372.18V389.06" stroke="#e04a9a" stroke-width="1.05" fill="none"/>
<path d="M437.06 372.18H443.46M437.06 389.06H443.46" stroke="#b47094" stroke-width="1.05" fill="none"/>
<path d="M519.85 327.49V355.69" stroke="#e04a9a" stroke-width="1.05" fill="none"/>
<path d="M516.65 327.49H523.05M516.65 355.69H523.05" stroke="#b47094" stroke-width="1.05" fill="none"/>
<path d="M652.5 321.73V354.5" stroke="#e04a9a" stroke-width="1.05" fill="none"/>
<path d="M649.3 321.73H655.7M649.3 354.5H655.7" stroke="#b47094" stroke-width="1.05" fill="none"/>
<circle cx="394.89" cy="470.39" r="3.0" fill="#ee2a8a"/>
<circle cx="400.46" cy="455.19" r="3.0" fill="#ee2a8a"/>
<circle cx="413.73" cy="430.72" r="3.0" fill="#ee2a8a"/>
<circle cx="440.26" cy="380.62" r="3.0" fill="#ee2a8a"/>
<circle cx="519.85" cy="341.59" r="3.0" fill="#ee2a8a"/>
<circle cx="652.5" cy="338.12" r="3.0" fill="#ee2a8a"/>
<circle cx="394.89" cy="477.98" r="3.0" fill="#1a0cff"/>
<circle cx="400.46" cy="479.12" r="3.0" fill="#1a0cff"/>
<circle cx="413.73" cy="477.64" r="3.0" fill="#1a0cff"/>
<circle cx="440.26" cy="479.42" r="3.0" fill="#1a0cff"/>
<circle cx="519.85" cy="479.87" r="3.0" fill="#1a0cff"/>
<circle cx="652.5" cy="479.42" r="3.0" fill="#1a0cff"/>
<circle cx="399.8" cy="291.6" r="2.9" fill="#1a0cff"/>
<text x="413.1" y="294.9" font-size="9.45" fill="#111" stroke="#111"><tspan font-weight="bold">CH1:</tspan><tspan> anti-IBV</tspan></text>
<circle cx="399.8" cy="302.25" r="2.9" fill="#f07c22"/>
<text x="413.1" y="305.55" font-size="9.45" fill="#111" stroke="#111"><tspan font-weight="bold">CH2:</tspan><tspan> anti-RSV</tspan></text>
<circle cx="399.8" cy="312.9" r="2.9" fill="#35921f"/>
<text x="413.1" y="316.2" font-size="9.45" fill="#111" stroke="#111"><tspan font-weight="bold">CH3:</tspan><tspan> anti-IAV</tspan></text>
<circle cx="399.8" cy="323.55" r="2.9" fill="#ee2a8a"/>
<text x="413.1" y="326.85" font-size="9.45" fill="#111" stroke="#111"><tspan font-weight="bold">CH4:</tspan><tspan> anti-COV</tspan></text>
<text x="549.6" y="314.2" font-size="9.4" font-weight="bold" fill="#d8349a" stroke="#d8349a"><tspan letter-spacing="0.25">LOD</tspan><tspan font-size="6.9" dy="2.6">SARS-COV-2</tspan><tspan dy="-2.6" dx="1.2">= 6.90 ng/mL</tspan></text>
</svg>
</body></html>
